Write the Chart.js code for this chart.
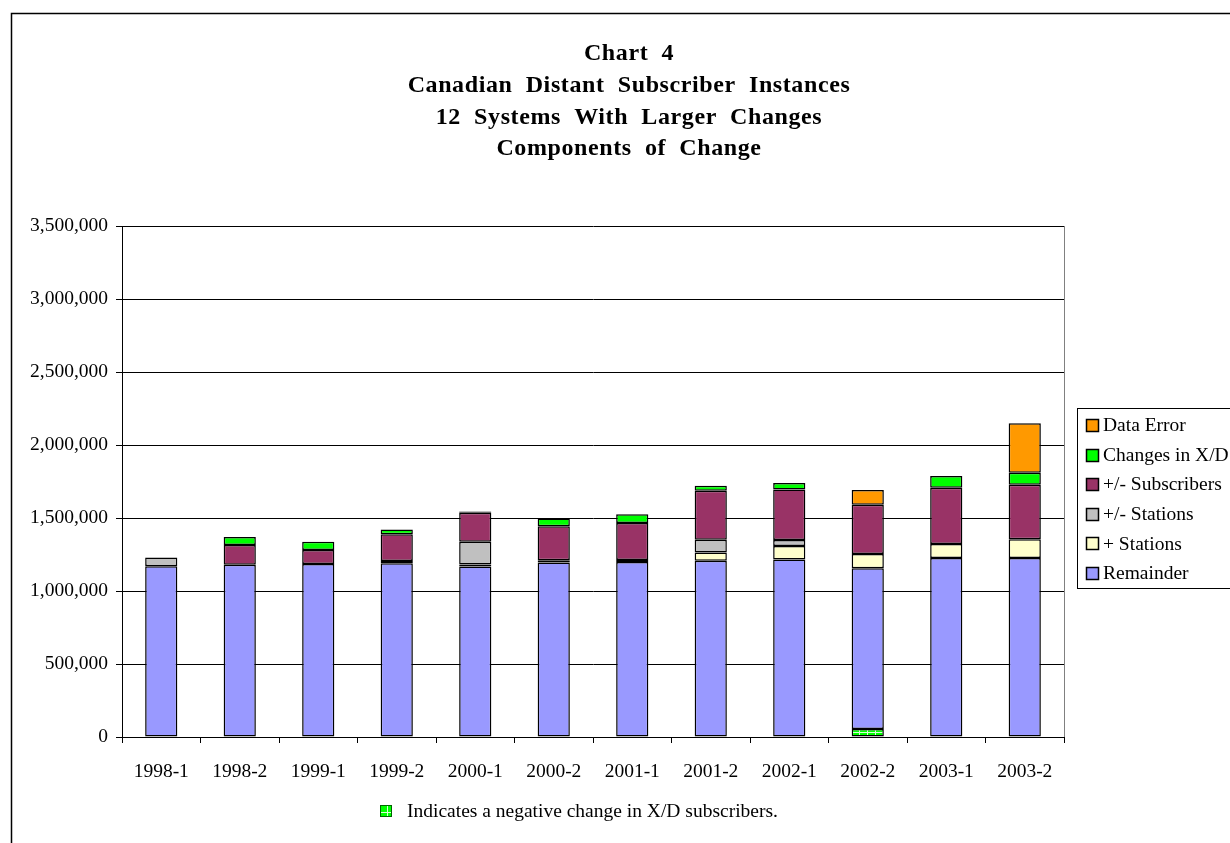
<!DOCTYPE html>
<html>
<head>
<meta charset="utf-8">
<script src="https://cdn.jsdelivr.net/npm/chart.js@4/dist/chart.umd.min.js"></script>
<style>
  html, body { margin: 0; padding: 0; background: #fff; overflow: hidden; }
  #wrap { width: 1230px; height: 843px; }
</style>
</head>
<body>
<div id="wrap"><canvas id="chart4" width="1230" height="843"></canvas></div>
<script>
// ===== DATA =====
const periode = ["1998-1","1998-2","1999-1","1999-2","2000-1","2000-2","2001-1","2001-2","2002-1","2002-2","2003-1","2003-2"];
const negatifXD  = [null, null, null, null, null, null, null, null, null, 55000, null, null];
const remainder  = [1170000, 1180000, 1185000, 1190000, 1167000, 1195000, 1198000, 1208000, 1215000, 1100000, 1226000, 1226000];
const plusStn    = [null, null, null, null, 15000, null, null, 56000, 93000, 98000, 96000, 128000];
const pmStn      = [60000, null, null, 15000, 156000, 15000, 15000, 87000, 41000, null, null, null];
const pmSubs     = [null, 135000, 96000, 183000, 198000, 234000, 253000, 336000, 347000, 338000, 386000, 374000];
const changesXD  = [null, 55000, 57000, 34000, 9000, 53000, 59000, 34000, 44000, null, 80000, 82000];
const dataError  = [null, null, null, null, null, null, null, null, null, 101000, null, 339000];
const yTicks = [0, 500000, 1000000, 1500000, 2000000, 2500000, 3000000, 3500000];

const judul = ["Chart  4", "Canadian  Distant  Subscriber  Instances", "12  Systems  With  Larger  Changes", "Components  of  Change"];
const catatan = "Indicates a negative change in X/D subscribers.";

const SERIF = '"Liberation Serif", "Times New Roman", serif';

// pola kotak-kotak hijau untuk perubahan negatif X/D
function buatPola() {
  const c = document.createElement("canvas");
  c.width = 8; c.height = 8;
  const g = c.getContext("2d");
  g.fillStyle = "#00ff00";
  g.fillRect(0, 0, 8, 8);
  g.fillStyle = "#d8ffd8";
  g.fillRect(3, 0, 1, 8);
  g.fillRect(0, 4, 8, 1);
  return g.createPattern(c, "repeat");
}
const pola = buatPola();

function ds(label, data, warna, diLegend) {
  return {label: label, data: data, backgroundColor: warna, borderColor: "#000", borderWidth: 1.5,
          borderSkipped: false, barPercentage: 0.41, categoryPercentage: 1.0, legendShow: diLegend};
}

// ===== PLUGIN: bingkai, judul, legenda, catatan =====
const dekorasi = {
  id: "dekorasi",
  beforeDraw(chart) {
    const ctx = chart.ctx;
    ctx.save();
    ctx.strokeStyle = "#000";
    ctx.lineWidth = 1.5;
    ctx.beginPath();
    ctx.moveTo(11.5, 843);
    ctx.lineTo(11.5, 13.5);
    ctx.lineTo(1230, 13.5);
    ctx.stroke();
    ctx.restore();
  },
  afterDraw(chart) {
    const ctx = chart.ctx;
    const a = chart.chartArea;
    ctx.save();
    // garis kanan area plot
    ctx.strokeStyle = "#808080";
    ctx.lineWidth = 1;
    ctx.beginPath();
    ctx.moveTo(Math.round(a.right) + 0.5, a.top);
    ctx.lineTo(Math.round(a.right) + 0.5, a.bottom);
    ctx.stroke();

    // judul
    ctx.fillStyle = "#000";
    ctx.textAlign = "center";
    ctx.textBaseline = "middle";
    ctx.font = "bold 24px " + SERIF;
    ctx.letterSpacing = "0.6px";
    judul.forEach((t, i) => ctx.fillText(t, 629, 54 + i * 31.7));
    ctx.letterSpacing = "0px";

    // legenda
    const lx = 1077, ly = 408;
    ctx.fillStyle = "#fff";
    ctx.fillRect(lx, ly, 200, 180);
    ctx.strokeStyle = "#000";
    ctx.strokeRect(lx + 0.5, ly + 0.5, 200, 180);
    ctx.font = "19.5px " + SERIF;
    ctx.textAlign = "left";
    const items = chart.data.datasets.filter(d => d.legendShow).reverse();
    items.forEach((d, i) => {
      const y = 425 + i * 29.6;
      ctx.fillStyle = d.backgroundColor;
      ctx.fillRect(1086, Math.round(y - 6), 12, 12);
      ctx.strokeStyle = "#000";
      ctx.lineWidth = 1.5;
      ctx.strokeRect(1086.5, Math.round(y - 6) + 0.5, 12, 12);
      ctx.fillStyle = "#000";
      ctx.fillText(d.label, 1103, y + 1);
    });

    // catatan bawah
    ctx.fillStyle = pola;
    ctx.fillRect(380, 805, 12, 12);
    ctx.strokeStyle = "#006600";
    ctx.lineWidth = 1;
    ctx.strokeRect(380.5, 805.5, 11, 11);
    ctx.fillStyle = "#000";
    ctx.fillText(catatan, 407, 812);
    ctx.restore();
  }
};

// ===== CHART =====
new Chart(document.getElementById("chart4"), {
  type: "bar",
  data: {
    labels: periode,
    datasets: [
      ds("Negative X/D", negatifXD, pola, false),
      ds("Remainder", remainder, "#9999ff", true),
      ds("+ Stations", plusStn, "#ffffcc", true),
      ds("+/- Stations", pmStn, "#c0c0c0", true),
      ds("+/- Subscribers", pmSubs, "#993366", true),
      ds("Changes in X/D", changesXD, "#00ff00", true),
      ds("Data Error", dataError, "#ff9900", true)
    ]
  },
  options: {
    responsive: false,
    animation: false,
    devicePixelRatio: 1,
    layout: {padding: {left: 12, right: 166, top: 226, bottom: 56}},
    plugins: {
      legend: {display: false},
      title: {display: false},
      tooltip: {enabled: false}
    },
    scales: {
      x: {
        stacked: true,
        afterFit: s => { s.height = 50; },
        grid: {offset: true, drawOnChartArea: false, drawTicks: true, tickLength: 6, color: "#000"},
        border: {display: true, color: "#000"},
        ticks: {color: "#000", font: {family: SERIF, size: 19.5}, padding: 17, maxRotation: 0}
      },
      y: {
        stacked: true,
        min: 0,
        max: 3500000,
        afterFit: s => { s.width = 110; },
        afterBuildTicks: s => { s.ticks = yTicks.map(v => ({value: v})); },
        grid: {color: "#000", tickLength: 6, drawTicks: true},
        border: {display: true, color: "#000"},
        ticks: {
          color: "#000",
          padding: 8,
          font: {family: SERIF, size: 19.5},
          callback: v => v.toLocaleString("en-US")
        }
      }
    }
  },
  plugins: [dekorasi]
});
</script>
</body>
</html>
